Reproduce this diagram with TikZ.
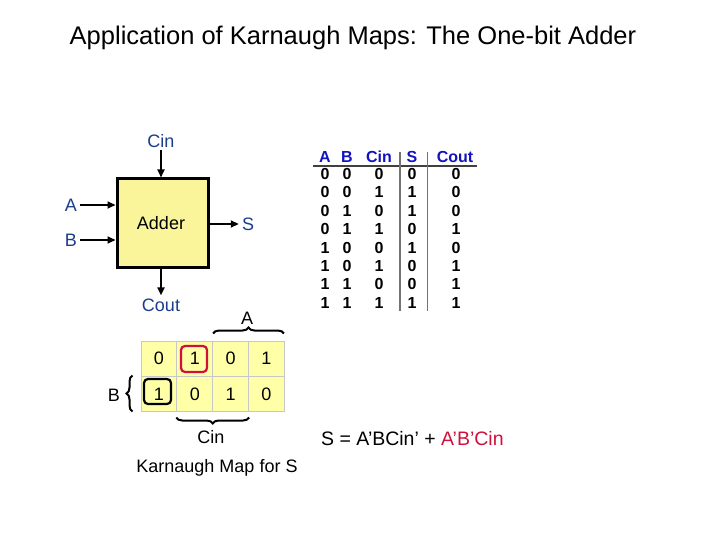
\documentclass[tikz,border=0pt]{standalone}
\usepackage{fontspec}
\setmainfont{Liberation Sans}
\usetikzlibrary{decorations.pathreplacing,arrows.meta}
\definecolor{lblblue}{HTML}{1A3C8C}
\definecolor{hdrblue}{HTML}{1212C0}
\definecolor{boxfill}{HTML}{FAF59B}
\definecolor{cellfill}{HTML}{FFFFA8}
\definecolor{eqred}{HTML}{D0103A}
\tikzset{
  lbl/.style={text=lblblue,font=\fontsize{18}{20}\selectfont,inner sep=0pt},
  blk/.style={text=black,font=\fontsize{18}{20}\selectfont,inner sep=0pt},
  hdr/.style={text=hdrblue,font=\fontsize{16}{18}\selectfont\bfseries,inner sep=0pt},
  dig/.style={text=black,font=\fontsize{16}{18}\selectfont\bfseries,inner sep=0pt},
  kdig/.style={text=black,font=\fontsize{18}{20}\selectfont,inner sep=0pt},
  arr/.style={line width=1.8pt,-{Triangle[length=8pt,width=7pt]}},
  brc/.style={line width=2pt,decorate,decoration={brace,amplitude=6pt}},
  kcell/.style={draw=black!22,line width=1pt,fill=cellfill,minimum width=36pt,minimum height=35pt,inner sep=0pt},
}
\begin{document}
\begin{tikzpicture}[x=1pt,y=-1pt]
\useasboundingbox (0,0) rectangle (720,540);
% title
\node[font=\fontsize{25.5}{30}\selectfont,inner sep=0pt] (title) at (353,38) {Application of Karnaugh Maps: The One-bit Adder};
% adder
\node[draw=black,line width=3pt,fill=boxfill,minimum width=91pt,minimum height=88pt,inner sep=0pt] (adder) at (162.5,223) {};
\node[blk] (addtxt) at (161,223) {Adder};
\node[lbl] (cin) at (161,141) {Cin};
\node[lbl] (a) at (71,205) {A};
\node[lbl] (b) at (71,240) {B};
\node[lbl] (s) at (248,224) {S};
\node[lbl] (cout) at (161,305) {Cout};
\draw[arr] (cin.south) ++(0,2) coordinate (cinT) -- (cinT |- adder.north);
\draw[arr] (a.east) ++(3,0) coordinate (aT) -- (aT -| adder.west);
\draw[arr] (b.east) ++(3,0) coordinate (bT) -- (bT -| adder.west);
\draw[arr] (adder.east |- s.west) -- ([xshift=-3pt]s.west);
\draw[arr] (adder.south -| cout.north) -- ([yshift=3pt]cout.north);
% truth table
\node[hdr] (hA) at (325,157) {A};
\node[hdr] (hB) at (347,157) {B};
\node[hdr] (hC) at (379,157) {Cin};
\node[hdr] (hS) at (412,157) {S};
\node[hdr] (hO) at (455,157) {Cout};
\coordinate (ulL) at (313,166);
\coordinate (ulR) at (477,166);
\draw[line width=1.6pt,black!75] (ulL) -- (ulR);
\coordinate (v1t) at (400,152);
\coordinate (v1b) at (400,311);
\coordinate (v2t) at (427,152);
\coordinate (v2b) at (427,311);
\draw[line width=2.2pt,black!55] (v1t) -- (v1b);
\draw[line width=1pt,black!55] (v2t) -- (v2b);
\foreach \r/\va/\vb/\vc/\vs [count=\i from 0] in {0/0/0/0/0, 0/0/1/1/0, 0/1/0/1/0, 0/1/1/0/1, 1/0/0/1/0, 1/0/1/0/1, 1/1/0/0/1, 1/1/1/1/1}{
  \node[dig] (tA\i) at (325,174+18.4*\i) {\r};
  \node[dig] (tB\i) at (347,174+18.4*\i) {\va};
  \node[dig] (tC\i) at (379,174+18.4*\i) {\vb};
  \node[dig] (tS\i) at (412,174+18.4*\i) {\vc};
  \node[dig] (tO\i) at (456,174+18.4*\i) {\vs};
}
% K-map
\foreach \v [count=\j from 0] in {0,1,0,1}{
  \node[kcell] (k0\j) at (159+35.8*\j,358.5) {};
  \node[kdig] (kt0\j) at (159+35.8*\j,358.5) {\v};
}
\foreach \v [count=\j from 0] in {1,0,1,0}{
  \node[kcell] (k1\j) at (159+35.8*\j,393.5) {};
  \node[kdig] (kt1\j) at (159+35.8*\j,394.5) {\v};
}
\draw[line width=2.2pt,eqred,rounded corners=4pt] (181,346) rectangle (207,372);
\draw[line width=2.2pt,black,rounded corners=4pt] (144,379) rectangle (171,404);
% braces
\draw[brc] (k02.north west) ++(1,-7) coordinate (bA1) -- ([shift={(-1,-7)}]k03.north east) coordinate (bA2);
\node[blk] (kA) at (247,318) {A};
\draw[brc] (k10.south west) ++(-8,0) coordinate (bB1) -- ([xshift=-8pt]k10.north west) coordinate (bB2);
\node[blk] (kB) at (114,395) {B};
\draw[brc] (k12.south east) ++(0,6) coordinate (bC1) -- ([yshift=-6pt]k11.south west) coordinate (bC2);
\node[blk] (kC) at (211,437) {Cin};
\node[blk] (kmap) at (217,468) {Karnaugh Map for S};
% equation
\node[blk,anchor=west,font=\fontsize{19.5}{22}\selectfont] (eq) at (321,439) {S = A’BCin’ + \textcolor{eqred}{A’B’Cin}};
\end{tikzpicture}
\end{document}
